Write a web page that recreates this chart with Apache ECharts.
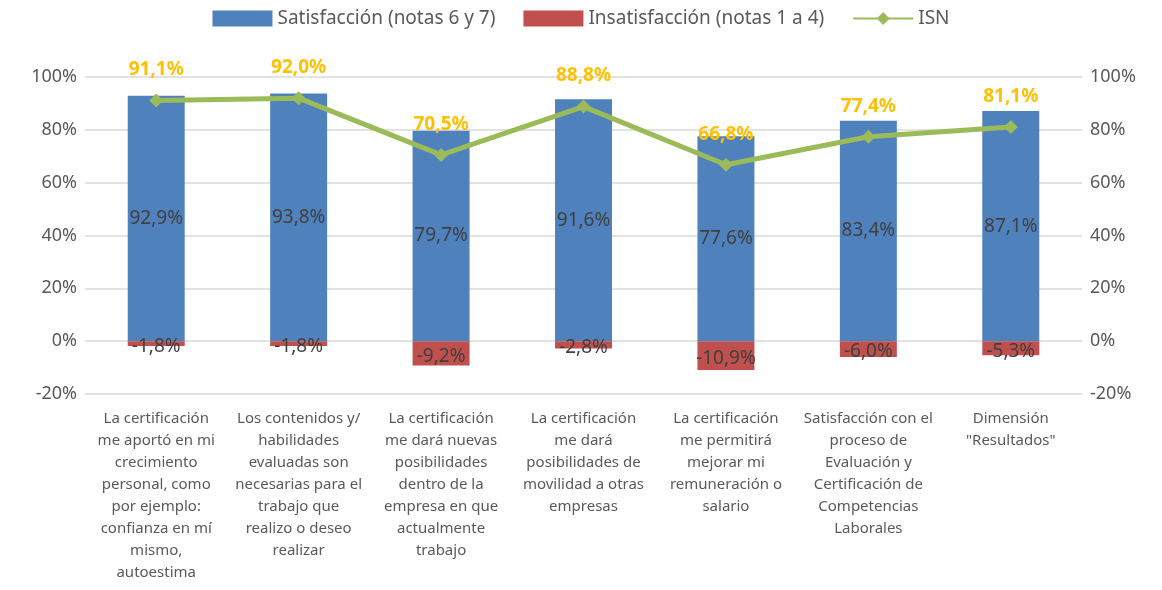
<!DOCTYPE html>
<html>
<head>
<meta charset="utf-8">
<script src="https://cdn.jsdelivr.net/npm/echarts@6/dist/echarts.min.js"></script>
<style>html,body{margin:0;padding:0;background:#fff}#chart{width:1162px;height:590px}</style>
</head>
<body>
<div id="chart"></div>
<script>
var categories = [
  'La certificación\nme aportó en mi\ncrecimiento\npersonal, como\npor ejemplo:\nconfianza en mí\nmismo,\nautoestima',
  'Los contenidos y/\nhabilidades\nevaluadas son\nnecesarias para el\ntrabajo que\nrealizo o deseo\nrealizar',
  'La certificación\nme dará nuevas\nposibilidades\ndentro de la\nempresa en que\nactualmente\ntrabajo',
  'La certificación\nme dará\nposibilidades de\nmovilidad a otras\nempresas',
  'La certificación\nme permitirá\nmejorar mi\nremuneración o\nsalario',
  'Satisfacción con el\nproceso de\nEvaluación y\nCertificación de\nCompetencias\nLaborales',
  'Dimensión\n"Resultados"'
];
var satisfaccion = [92.9, 93.8, 79.7, 91.6, 77.6, 83.4, 87.1];
var insatisfaccion = [-1.8, -1.8, -9.2, -2.8, -10.9, -6.0, -5.3];
var isn = [91.1, 92.0, 70.5, 88.8, 66.8, 77.4, 81.1];

var font = '"Noto Sans", sans-serif';
function pct(v) { return v.toFixed(1).replace('.', ',') + '%'; }

var chart = echarts.init(document.getElementById('chart'));
var yAxisCommon = {
  type: 'value', min: -20, max: 100, interval: 20,
  axisLine: { show: false }, axisTick: { show: false },
  axisLabel: { formatter: '{value}%', color: '#595959', fontSize: 18, fontFamily: font }
};
chart.setOption({
  animation: false,
  legend: {
    top: 4, left: 'center', itemWidth: 60, itemHeight: 16, itemGap: 28,
    textStyle: { color: '#595959', fontSize: 19, fontFamily: font },
    data: [
      { name: 'Satisfacción (notas 6 y 7)', icon: 'rect' },
      { name: 'Insatisfacción (notas 1 a 4)', icon: 'rect' },
      'ISN'
    ]
  },
  grid: { left: 85, right: 80, top: 77, bottom: 196 },
  xAxis: {
    type: 'category', data: categories,
    axisLine: { show: false }, axisTick: { show: false },
    axisLabel: { interval: 0, color: '#595959', fontSize: 15, lineHeight: 22, fontFamily: font, margin: 14 }
  },
  yAxis: [
    Object.assign({}, yAxisCommon, { splitLine: { lineStyle: { color: '#d9d9d9', width: 1.5 } } }),
    Object.assign({}, yAxisCommon, { splitLine: { show: false } })
  ],
  series: [
    {
      name: 'Satisfacción (notas 6 y 7)', type: 'bar', stack: 'a', data: satisfaccion,
      barWidth: '40%', itemStyle: { color: '#4F81BD' },
      label: { show: true, position: 'inside', color: '#404040', fontSize: 19, fontFamily: font,
        formatter: function (p) { return pct(p.value); } }
    },
    {
      name: 'Insatisfacción (notas 1 a 4)', type: 'bar', stack: 'a', data: insatisfaccion,
      itemStyle: { color: '#C0504D' },
      label: { show: true, position: 'inside', offset: [0, 3], color: '#404040', fontSize: 19, fontFamily: font,
        formatter: function (p) { return pct(p.value); } }
    },
    {
      name: 'ISN', type: 'line', data: isn,
      lineStyle: { color: '#9BBB59', width: 5 },
      itemStyle: { color: '#9BBB59' },
      symbol: 'diamond', symbolSize: 14,
      label: { show: true, position: 'top', distance: 14, color: '#FFC000', fontWeight: 'bold', fontSize: 19, fontFamily: font,
        formatter: function (p) { return pct(p.value); } }
    }
  ]
});
</script>
</body>
</html>
